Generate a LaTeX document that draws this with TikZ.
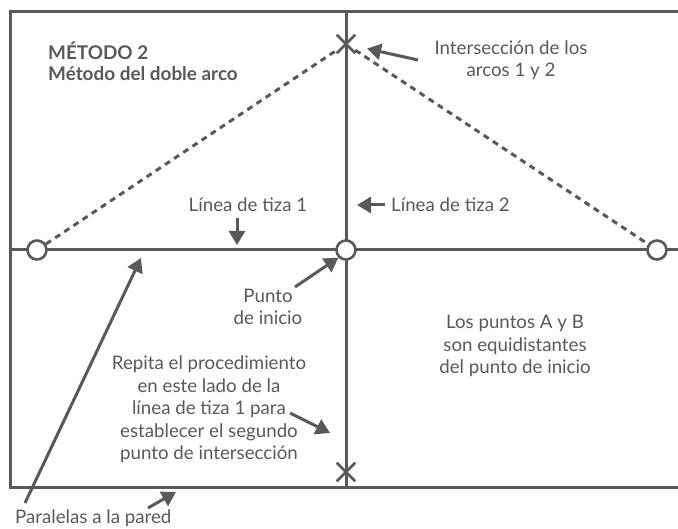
\documentclass[tikz,border=0pt]{standalone}
\usepackage{fontspec}
\setmainfont{Lato}
\usetikzlibrary{arrows.meta,shapes.misc}
\definecolor{ink}{HTML}{58595B}
\definecolor{txt}{HTML}{58595B}
\tikzset{
  frame/.style={draw=ink,line width=3pt},
  pt/.style={circle,draw=ink,line width=2.6pt,minimum size=19pt,inner sep=0pt,fill=white},
  xmark/.style={cross out,draw=ink,line width=2.6pt,minimum size=16pt,inner sep=0pt},
  arc/.style={draw=ink,line width=3pt,dash pattern=on 6pt off 5pt},
  ptr/.style={draw=ink,line width=3pt,-{Triangle[length=14pt,width=16pt]}},
  lbl/.style={text=txt,font=\fontsize{18.7}{22.5}\selectfont,align=center,inner sep=0pt},
}
\begin{document}
\begin{tikzpicture}[x=1pt,y=-1pt]
\useasboundingbox (0,0) rectangle (678,529);
% frame
\coordinate (tl) at (10,12);
\coordinate (tr) at (678,12);
\coordinate (bl) at (10,487);
\coordinate (br) at (678,487);
\draw[frame] (tr) -- (tl) -- (bl) -- (br);
\coordinate (hl) at (10,250);
\coordinate (hr) at (678,250);
\coordinate (vt) at (346,12);
\coordinate (vb) at (346,487);
\draw[frame] (hl) -- (hr);
\draw[frame] (vt) -- (vb);
% points
\node[pt] (A) at (37,250) {};
\node[pt] (O) at (346,250) {};
\node[pt] (B) at (657,250) {};
\node[xmark] (X1) at (346,44) {};
\node[xmark] (X2) at (346,472) {};
\draw[arc] (A) -- (X1);
\draw[arc] (X1) -- (B);
% titles
\node[lbl,anchor=base west,align=left,font=\fontsize{18.9}{21.5}\selectfont\bfseries] (t1) at (48,81) {MÉTODO 2\\Método del doble arco};
% labels
\node[lbl,anchor=base] (inter) at (511,77) {Intersección de los\\arcos 1 y 2};
\coordinate (interA) at (418,60);
\draw[ptr,shorten >=12pt] (interA) -- (X1);
\node[lbl,anchor=base] (lt1) at (248,212) {Línea de tiza 1};
\coordinate (lt1a) at (237,218);
\coordinate (lt1b) at (237,245);
\draw[ptr] (lt1a) -- (lt1b);
\node[lbl,anchor=base west] (lt2) at (391,212) {Línea de tiza 2};
\coordinate (lt2a) at (385,205);
\coordinate (lt2b) at (357,205);
\draw[ptr] (lt2a) -- (lt2b);
\node[lbl,anchor=base] (punto) at (268,325) {Punto\\de inicio};
\coordinate (pa) at (295,287);
\draw[ptr] (pa) -- (O.south west);
\node[lbl,anchor=base] (eq) at (515,374) {Los puntos A y B\\son equidistantes\\del punto de inicio};
\node[lbl,anchor=base] (rep) at (209,460) {Repita el procedimiento\\en este lado de la\\línea de tiza 1 para\\establecer el segundo\\punto de intersección};
\coordinate (ra) at (290,413);
\coordinate (rb) at (330,433);
\draw[ptr] (ra) -- (rb);
\node[lbl,anchor=base west] (par) at (15,523) {Paralelas a la pared};
\coordinate (pl1) at (25,503);
\coordinate (pl2) at (141,258);
\draw[ptr] (pl1) -- (pl2);
\coordinate (pb1) at (148,508);
\coordinate (pb2) at (176,492);
\draw[ptr] (pb1) -- (pb2);
\end{tikzpicture}
\end{document}
